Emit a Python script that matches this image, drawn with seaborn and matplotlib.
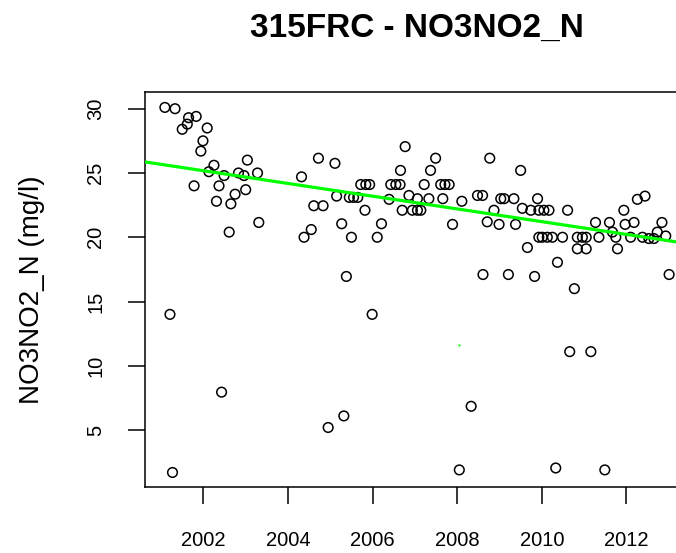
import matplotlib
matplotlib.use("Agg")
import matplotlib.pyplot as plt
import seaborn as sns
import pandas as pd

# ---- data ----
years = [
    2001.09, 2001.33, 2001.65, 2001.83, 2001.50, 2001.62, 2002.09, 2001.99, 2001.94, 2002.25,
    2002.13, 2002.37, 2001.78, 2002.31, 2002.49, 2002.65, 2002.75, 2003.00, 2002.83, 2003.04,
    2002.96, 2003.28, 2003.31, 2002.61, 2001.21, 2001.27, 2002.43,
    2004.72, 2005.11, 2004.32, 2004.61, 2004.83, 2004.55, 2004.38, 2005.15, 2005.27, 2005.50,
    2005.38, 2005.72, 2005.84, 2005.93, 2005.45, 2005.55, 2005.65, 2005.82, 2006.43, 2006.55,
    2006.65, 2006.39, 2006.21, 2006.11, 2006.77, 2006.66, 2006.70, 2006.86, 2005.99, 2005.32,
    2004.95,
    2007.49, 2007.37, 2007.22, 2007.61, 2007.71, 2007.81, 2007.06, 2007.33, 2006.94, 2007.06,
    2007.14, 2007.66, 2008.11, 2007.89, 2008.77, 2009.50, 2008.48, 2008.60, 2009.03, 2009.11,
    2009.34, 2008.87, 2008.71, 2008.99, 2009.38, 2009.54, 2009.74, 2009.90, 2009.66, 2009.93,
    2008.61, 2009.21, 2009.83, 2008.33, 2008.05,
    2009.93, 2010.05, 2010.17, 2010.61, 2010.01, 2010.13, 2010.25, 2010.49, 2010.37, 2010.84,
    2010.96, 2011.05, 2010.84, 2011.05, 2011.27, 2011.35, 2011.60, 2011.75, 2011.67, 2011.79,
    2011.94, 2011.97, 2012.18, 2012.10, 2012.26, 2012.44, 2012.38, 2012.53, 2012.65, 2012.84,
    2012.93, 2012.73, 2010.77, 2013.01, 2010.66, 2011.16, 2010.33, 2011.49,
]
values = [
    30.1, 30.0, 29.3, 29.4, 28.4, 28.8, 28.5, 27.5, 26.7, 25.6,
    25.1, 24.0, 24.0, 22.8, 24.8, 22.6, 23.35, 23.7, 25.0, 26.0,
    24.8, 25.0, 21.15, 20.4, 14.0, 1.7, 7.95,
    26.15, 25.75, 24.7, 22.45, 22.45, 20.6, 20.0, 23.2, 21.05, 20.0,
    16.95, 24.1, 24.1, 24.1, 23.1, 23.1, 23.1, 22.1, 24.1, 24.1,
    24.1, 22.95, 21.05, 20.0, 27.05, 25.2, 22.1, 23.25, 14.0, 6.1,
    5.2,
    26.15, 25.2, 24.1, 24.1, 24.1, 24.1, 23.0, 23.0, 22.1, 22.1,
    22.1, 23.0, 22.8, 21.0, 26.15, 25.2, 23.25, 23.25, 23.0, 23.0,
    23.0, 22.1, 21.2, 21.0, 21.0, 22.25, 22.1, 23.0, 19.2, 20.0,
    17.1, 17.1, 16.95, 6.85, 1.9,
    22.1, 22.1, 22.1, 22.1, 20.0, 20.0, 20.0, 20.0, 18.05, 20.0,
    20.0, 20.0, 19.1, 19.1, 21.15, 20.0, 21.15, 20.0, 20.4, 19.1,
    22.1, 21.0, 21.15, 20.0, 22.95, 23.2, 20.0, 19.9, 19.9, 21.15,
    20.1, 20.4, 16.0, 17.1, 11.1, 11.1, 2.05, 1.9,
]
trend_x = [2000.62, 2013.48]
trend_y = [25.86, 19.49]
stray_x = [2008.05]
stray_y = [11.6]

x_ticks = [2002, 2004, 2006, 2008, 2010, 2012]
y_ticks = [5, 10, 15, 20, 25, 30]
title = "315FRC - NO3NO2_N"
ylabel = "NO3NO2_N (mg/l)"

df = pd.DataFrame({"year": years, "value": values})
trend = pd.DataFrame({"year": trend_x, "value": trend_y})

sns.set_theme(style="white")
plt.rcParams["font.family"] = ["Liberation Sans", "DejaVu Sans"]

fig = plt.figure(figsize=(6.76, 5.53), dpi=100)
ax = fig.add_axes([145 / 676, 1 - 487 / 553, (689 - 145) / 676, (487 - 92) / 553])

sns.scatterplot(data=df, x="year", y="value", ax=ax, marker="o", s=48,
                facecolor="none", edgecolor="black", linewidth=1.1, zorder=2)
sns.lineplot(data=trend, x="year", y="value", ax=ax, color="#00ff00",
             linewidth=2.3, zorder=3)
ax.scatter(stray_x, stray_y, s=2.5, color="#00ff00", zorder=3, linewidths=0)

ax.set_xlim(2000.62, 2013.48)
ax.set_ylim(0.57, 31.3)
ax.set_xticks(x_ticks)
ax.set_xticklabels([str(t) for t in x_ticks])
ax.set_yticks(y_ticks)
ax.set_yticklabels([str(t) for t in y_ticks], rotation=90, va="center")

for sp in ax.spines.values():
    sp.set_visible(True)
    sp.set_color("black")
    sp.set_linewidth(1.1)

ax.tick_params(axis="both", direction="out", length=12.5, width=1.1, color="black",
               labelsize=14.5, labelcolor="black", bottom=True, left=True)
ax.tick_params(axis="x", pad=19)
ax.tick_params(axis="y", pad=16)

ax.set_xlabel("")
ax.set_ylabel(ylabel, fontsize=20, color="black")
ax.yaxis.set_label_coords(-0.208, 0.5)
ax.yaxis.label.set_verticalalignment("center")
ax.set_title(title, fontsize=24, fontweight="bold", pad=40, color="black")
ax.grid(False)

fig.savefig("out.png", dpi=100)
